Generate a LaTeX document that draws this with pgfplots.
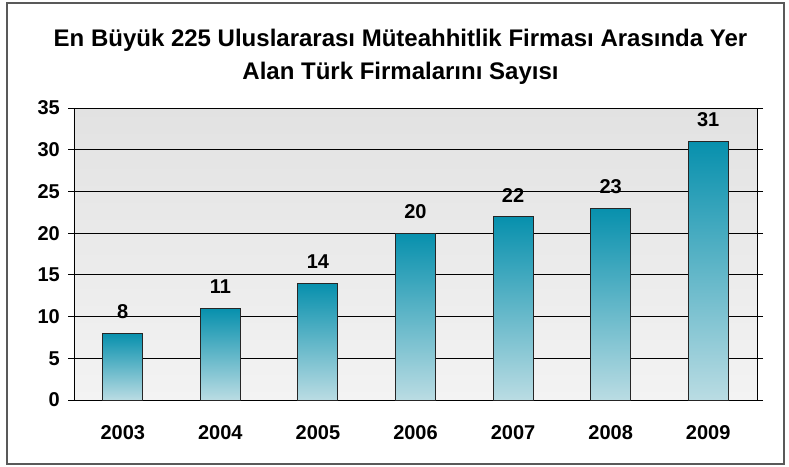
\documentclass[border=0pt]{standalone}
\usepackage{fontspec}
\setmainfont{Liberation Sans}
\usepackage{pgfplots}
\pgfplotsset{compat=1.18}
\definecolor{bartop}{HTML}{0790AD}
\definecolor{barbot}{HTML}{BADCE3}
\definecolor{bgtop}{HTML}{E2E2E2}
\definecolor{bgbot}{HTML}{F3F3F3}
\pgfplotsset{mybar/.style={ybar, bar width=40pt, bar shift=0pt, draw=black!85, line width=0.9pt,
  top color=bartop, bottom color=barbot,
  nodes near coords,
  every node near coord/.append style={font=\fontsize{20}{24}\selectfont\bfseries, inner sep=0pt, yshift=14pt, text=black}}}
\begin{document}
\begin{tikzpicture}
\useasboundingbox (-74pt,-66pt) rectangle (715pt,400pt);
\draw[draw=black!65, line width=1.4pt] (-67pt,-64pt) rectangle (710pt,397pt);
\node[align=center, font=\fontsize{24}{33}\selectfont\bfseries] at (326.5pt,343.5pt) {En Büyük 225 Uluslararası Müteahhitlik Firması Arasında Yer\\Alan Türk Firmalarını Sayısı};
\begin{axis}[
  at={(0,0)}, anchor=south west,
  scale only axis, width=683pt, height=292pt,
  xmin=-0.5, xmax=6.5, ymin=0, ymax=35,
  ytick={0,5,...,35},
  xtick={0,...,6},
  xticklabels={2003,2004,2005,2006,2007,2008,2009},
  x tick style={draw=none},
  extra x ticks={-0.5,0.5,...,6.5},
  extra x tick labels={},
  extra x tick style={grid=none, major tick length=7pt, tick style={draw=black, line width=0.8pt}, tick align=outside},
  tick align=outside,
  major tick length=6pt,
  ymajorgrids,
  grid style={black, line width=0.8pt},
  axis line style={black, line width=0.8pt},
  tick style={black, line width=0.8pt},
  axis background/.style={top color=bgtop, bottom color=bgbot},
  /pgf/number format/assume math mode=true,
  ticklabel style={font=\fontsize{20}{24}\selectfont\bfseries, inner sep=0pt},
  y tick label style={xshift=-8pt},
  x tick label style={yshift=-19pt},
]
\addplot[mybar] coordinates {(0,8)};
\addplot[mybar] coordinates {(1,11)};
\addplot[mybar] coordinates {(2,14)};
\addplot[mybar] coordinates {(3,20)};
\addplot[mybar] coordinates {(4,22)};
\addplot[mybar] coordinates {(5,23)};
\addplot[mybar] coordinates {(6,31)};
\end{axis}
\end{tikzpicture}
\end{document}
